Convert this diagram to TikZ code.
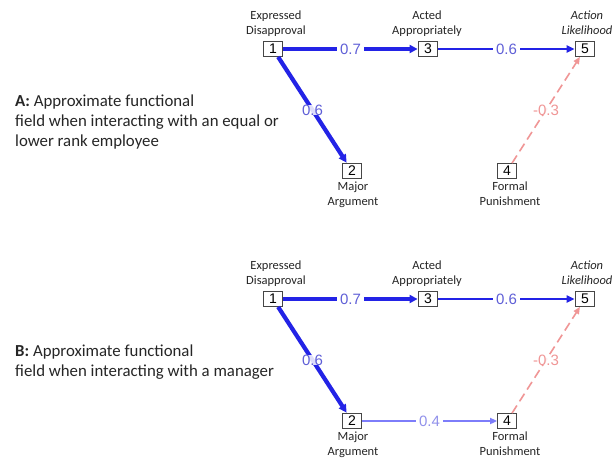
\documentclass[tikz,border=0pt]{standalone}
\usepackage{fontspec}
\setmainfont{Carlito}
\newfontfamily\arialf{Liberation Sans}
\usetikzlibrary{arrows.meta}
\definecolor{strongblue}{RGB}{35,35,230}
\definecolor{lblblue}{RGB}{95,95,215}
\definecolor{paleblue}{RGB}{125,125,250}
\definecolor{palelbl}{RGB}{145,145,235}
\definecolor{pinkred}{RGB}{240,150,150}
\definecolor{boxgray}{RGB}{70,70,70}
\tikzset{
  numbox/.style={draw=boxgray, line width=0.8pt, fill=white, minimum width=19pt, minimum height=15pt, inner sep=0pt, font=\arialf\fontsize{14}{15}\selectfont},
  varlabel/.style={align=center, anchor=base, inner sep=0pt, font=\fontsize{12.5}{15.3}\selectfont, text=black!85},
  sidetext/.style={align=left, anchor=base west, inner sep=0pt, font=\fontsize{16.8}{20}\selectfont, text=black!85},
  wlabel/.style={fill=white, inner xsep=3.5pt, inner ysep=1pt, font=\arialf\fontsize{15}{16}\selectfont},
  thickarrow/.style={draw=strongblue, line width=4.2pt, -{Triangle[length=8pt,width=8pt]}, shorten >=0.5pt},
  midarrow/.style={draw=strongblue, line width=2.8pt, -{Triangle[length=8pt,width=7pt]}, shorten >=0.5pt},
  dasharrow/.style={draw=pinkred, line width=1.6pt, dash pattern=on 9pt off 5pt, -{Triangle[length=7pt,width=6pt]}},
  thinarrow/.style={draw=paleblue, line width=1.8pt, -{Triangle[length=7pt,width=6pt]}},
}
\begin{document}
\begin{tikzpicture}[x=1pt,y=-1pt]
\useasboundingbox (0,0) rectangle (614,459);
\fill[white] (0,0) rectangle (614,459);

% ---------- Panel A ----------
\node[sidetext] (ta) at (15,146.5) {\textbf{A:} Approximate functional\\field when interacting with an equal or\\lower rank employee};

\node[varlabel] (la1) at (276,34.3) {Expressed\\Disapproval};
\node[varlabel] (la3) at (427,34.3) {Acted\\Appropriately};
\node[varlabel] (la5) at (587,34.3) {\itshape Action\\\itshape Likelihood};
\node[varlabel] (la2) at (353,205.7) {Major\\Argument};
\node[varlabel] (la4) at (510,205.7) {Formal\\Punishment};

\node[numbox] (a1) at (273,49) {1};
\node[numbox] (a3) at (428,49) {3};
\node[numbox] (a5) at (585,49) {5};
\node[numbox] (a2) at (352,171) {2};
\node[numbox] (a4) at (507,171) {4};

\draw[thickarrow] (a1) -- node[wlabel, text=lblblue] {0.7} (a3);
\draw[midarrow] (a3) -- node[wlabel, text=lblblue] {0.6} (a5);
\draw[thickarrow] (a1) -- node[wlabel, text=lblblue, fill opacity=0.85, text opacity=1, inner sep=0pt] {0.6} (a2);
\draw[dasharrow] (a4) -- node[wlabel, text=pinkred, fill opacity=0.85, text opacity=1, inner sep=0pt] {-0.3} (a5);

% ---------- Panel B ----------
\node[sidetext] (tb) at (15,376.5) {\textbf{B:} Approximate functional\\field when interacting with a manager};

\node[varlabel] (lb1) at (276,284.3) {Expressed\\Disapproval};
\node[varlabel] (lb3) at (427,284.3) {Acted\\Appropriately};
\node[varlabel] (lb5) at (587,284.3) {\itshape Action\\\itshape Likelihood};
\node[varlabel] (lb2) at (353,455.7) {Major\\Argument};
\node[varlabel] (lb4) at (510,455.7) {Formal\\Punishment};

\node[numbox] (b1) at (273,299) {1};
\node[numbox] (b3) at (428,299) {3};
\node[numbox] (b5) at (585,299) {5};
\node[numbox] (b2) at (352,421) {2};
\node[numbox] (b4) at (507,421) {4};

\draw[thickarrow] (b1) -- node[wlabel, text=lblblue] {0.7} (b3);
\draw[midarrow] (b3) -- node[wlabel, text=lblblue] {0.6} (b5);
\draw[thickarrow] (b1) -- node[wlabel, text=lblblue, fill opacity=0.85, text opacity=1, inner sep=0pt] {0.6} (b2);
\draw[dasharrow] (b4) -- node[wlabel, text=pinkred, fill opacity=0.85, text opacity=1, inner sep=0pt] {-0.3} (b5);
\draw[thinarrow] (b2) -- node[wlabel, text=palelbl] {0.4} (b4);
\end{tikzpicture}
\end{document}
